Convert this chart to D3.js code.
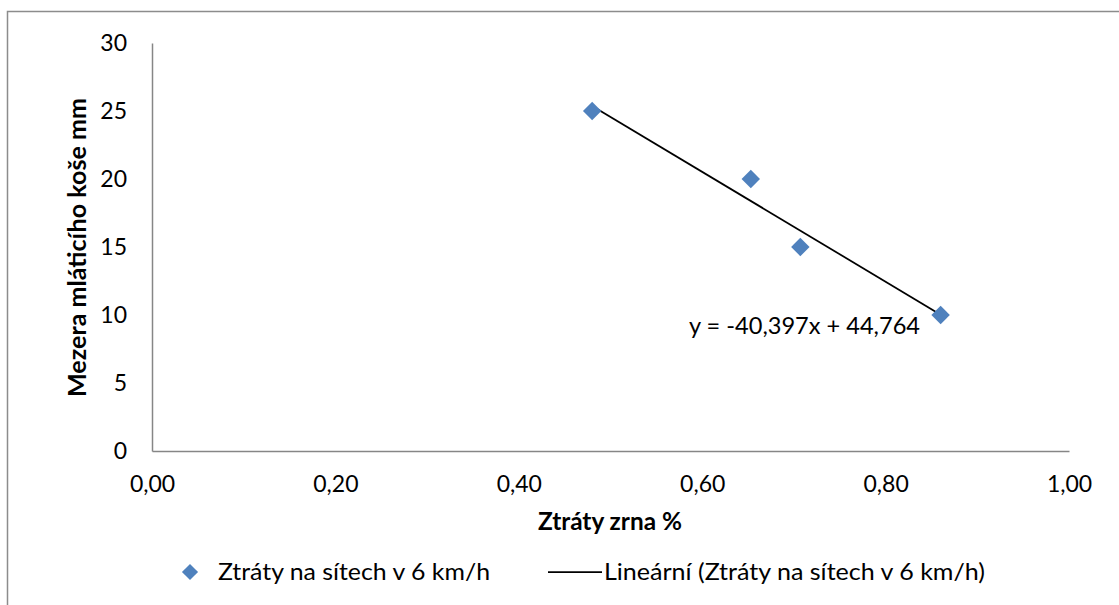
<!DOCTYPE html>
<html>
<head>
<meta charset="utf-8">
<script src="https://cdn.jsdelivr.net/npm/d3@7"></script>
<style>
  html, body { margin: 0; padding: 0; background: #fff; }
  svg { display: block; font-family: Lato, "Open Sans", sans-serif; }
</style>
</head>
<body>
<svg id="chart" width="1119" height="605"></svg>
<script>
// Grain losses vs. concave clearance
const lossPct   = [0.48, 0.653, 0.707, 0.86];
const clearance = [25, 20, 15, 10];
const xTicks = [0, 0.2, 0.4, 0.6, 0.8, 1.0];
const yTicks = [0, 5, 10, 15, 20, 25, 30];
// Linear trend coefficients
const slope = -40.397;
const intercept = 44.764;
const seriesName = "Ztráty na sítech v 6 km/h";

const svg = d3.select("#chart");
const fmtX = v => d3.format(".2f")(v).replace(".", ",");
const FS = 23;

const x = d3.scaleLinear().domain([0, 1]).range([152, 1069]);
const y = d3.scaleLinear().domain([0, 30]).range([451, 43]);

// chart border (top & left)
svg.append("path")
  .attr("d", "M7.5,605 L7.5,11.5 L1119,11.5")
  .attr("fill", "none").attr("stroke", "#8c8c8c").attr("stroke-width", 1.5);

// axes
const xAxis = svg.append("g").attr("transform", `translate(0,${y(0)})`)
  .call(d3.axisBottom(x).tickValues(xTicks).tickSize(0).tickPadding(25).tickFormat(fmtX));
const yAxis = svg.append("g").attr("transform", `translate(${x(0)},0)`)
  .call(d3.axisLeft(y).tickValues(yTicks).tickSize(0).tickPadding(25));
[xAxis, yAxis].forEach(g => {
  g.attr("font-family", null).attr("font-size", null);
  g.select(".domain").attr("stroke", "#868686").attr("stroke-width", 1.5);
  g.selectAll("text").attr("font-size", FS).attr("fill", "#000");
});

// helper for text fitted to a given run length
function label(parent, txt, xPos, yPos, len, opts = {}) {
  const t = parent.append("text")
    .attr("x", xPos).attr("y", yPos)
    .attr("font-size", opts.size || FS)
    .attr("font-weight", opts.bold ? "bold" : null)
    .attr("text-anchor", opts.anchor || "start")
    .attr("textLength", len).attr("lengthAdjust", "spacingAndGlyphs")
    .text(txt);
  if (opts.transform) t.attr("transform", opts.transform);
  return t;
}

// axis titles
label(svg, "Ztráty zrna %", 610, 530, 144, { bold: true, anchor: "middle", size: 24 });
label(svg, "Mezera mláticího koše mm", 0, 0, 299,
  { bold: true, anchor: "middle", size: 24, transform: "translate(86,247.5) rotate(-90)" });

// trend line
const xr = d3.extent(lossPct);
svg.append("line")
  .attr("x1", x(xr[0])).attr("y1", y(slope * xr[0] + intercept))
  .attr("x2", x(xr[1])).attr("y2", y(slope * xr[1] + intercept))
  .attr("stroke", "#000").attr("stroke-width", 1.75);

// markers
svg.append("g").selectAll("path").data(lossPct).join("path")
  .attr("d", d3.symbol().type(d3.symbolSquare).size(170))
  .attr("transform", (d, i) => `translate(${x(d)},${y(clearance[i])}) rotate(45)`)
  .attr("fill", "#4f81bd");

// equation label
label(svg, `y = ${String(slope).replace(".", ",")}x + ${String(intercept).replace(".", ",")}`,
  689, 334, 231);

// legend
const lg = svg.append("g");
lg.append("path").attr("d", d3.symbol().type(d3.symbolSquare).size(130))
  .attr("transform", "translate(190,572) rotate(45)").attr("fill", "#4f81bd");
label(lg, seriesName, 218, 580, 272);
lg.append("line").attr("x1", 548).attr("x2", 602).attr("y1", 572).attr("y2", 572)
  .attr("stroke", "#000").attr("stroke-width", 1.75);
label(lg, `Lineární (${seriesName})`, 604, 580, 381);
</script>
</body>
</html>
